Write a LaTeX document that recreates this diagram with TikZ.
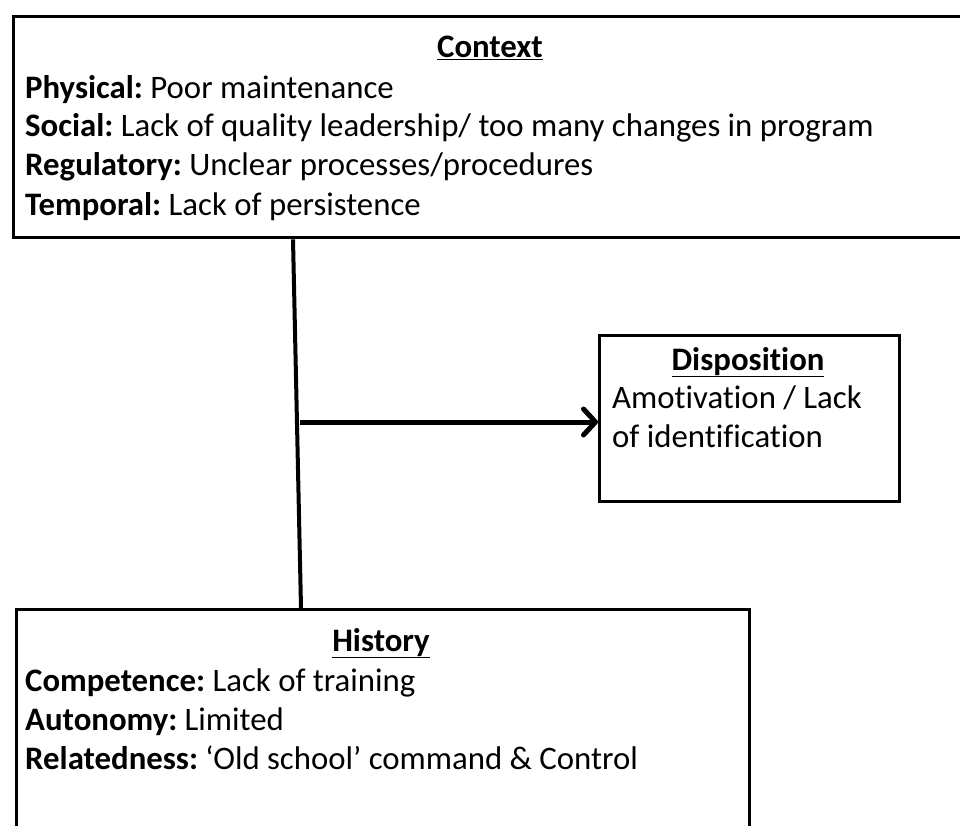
\documentclass[tikz,border=0pt]{standalone}
\usepackage{fontspec}
\setmainfont{Carlito}[Ligatures=NoCommon]
\usetikzlibrary{arrows.meta,calc}
\frenchspacing
\begin{document}
\begin{tikzpicture}[x=1pt,y=-1pt,
  box/.style={draw=black,line width=3.3pt,fill=white,inner sep=0pt,anchor=north west},
  txt/.style={anchor=base west,inner sep=0pt,font=\fontsize{32.8}{39}\selectfont},
  ttl/.style={anchor=base,inner sep=0pt,font=\fontsize{32.8}{39}\selectfont\bfseries},
  link/.style={line width=4pt},
  flow/.style={line width=5pt,-{Straight Barb[length=12pt,width=26pt,line cap=round,line join=round]}}]
\useasboundingbox (0,0) rectangle (960,826);
\clip (0,0) rectangle (960,826);
\fill[white] (0,0) rectangle (960,826);

% boxes
\node[box,minimum width=956pt,minimum height=221pt] (ctx) at (12,15) {};
\node[box,minimum width=300pt,minimum height=166pt] (disp) at (598,334) {};
\node[box,minimum width=733pt,minimum height=240pt] (hist) at (15,608) {};

% connector from context to history, with the branch to disposition
\coordinate (top) at ($(ctx.south west)+(281,0)$);
\coordinate (bot) at ($(hist.north west)+(286,0)$);
\coordinate (j) at (300,422);
\draw[link] (top) -- (bot);
\draw[flow] (j) -- (j -| disp.west);

% context
\node[ttl] (ctxt) at (490,58) {\underline{Context}};
\node[txt] (c1) at (25,99) {\textbf{Physical:} Poor maintenance};
\node[txt] (c2) at (25,137) {\textbf{Social:} Lack of quality leadership/ too many changes in program};
\node[txt] (c3) at (25,176) {\textbf{Regulatory:} Unclear processes/procedures};
\node[txt] (c4) at (25,215) {\textbf{Temporal:} Lack of persistence};

% disposition
\node[ttl] (dt) at (748,370) {\underline{Disposition}};
\node[txt] (d1) at (612,408) {Amotivation / Lack};
\node[txt] (d2) at (612,447) {of identification};

% history
\node[ttl] (ht) at (381,651) {\underline{History}};
\node[txt] (h1) at (25,691) {\textbf{Competence:} Lack of training};
\node[txt] (h2) at (25,730) {\textbf{Autonomy:} Limited};
\node[txt] (h3) at (25,769) {\textbf{Relatedness:} ‘Old school’ command \& Control};
\end{tikzpicture}
\end{document}
